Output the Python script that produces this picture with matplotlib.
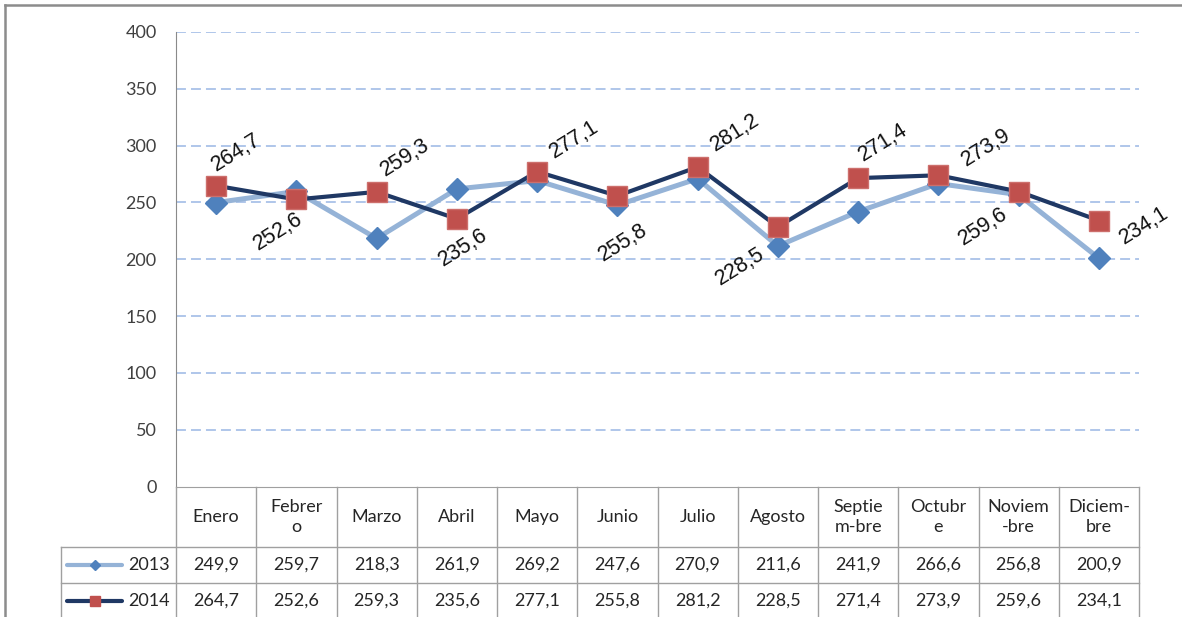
import numpy as np
import matplotlib
matplotlib.use('Agg')
import matplotlib.pyplot as plt
from matplotlib import transforms
from matplotlib.lines import Line2D

# data
meses = ['Enero', 'Febrer\no', 'Marzo', 'Abril', 'Mayo', 'Junio', 'Julio',
         'Agosto', 'Septie\nm-bre', 'Octubr\ne', 'Noviem\n-bre', 'Diciem-\nbre']
v2013 = [249.9, 259.7, 218.3, 261.9, 269.2, 247.6, 270.9, 211.6, 241.9, 266.6, 256.8, 200.9]
v2014 = [264.7, 252.6, 259.3, 235.6, 277.1, 255.8, 281.2, 228.5, 271.4, 273.9, 259.6, 234.1]
yticks = [0, 50, 100, 150, 200, 250, 300, 350, 400]

# where each 2014 label sits relative to its marker (px right, px up)
lab_dx = [20, -18, 28, 6, 37, 6, 37, -38, 25, 48, -36, 45]
lab_dy = [33, -32, 34, -29, 32, -47, 34, -40, 36, 28, -35, -5]

def fmt(v):
    return ('%.1f' % v).replace('.', ',')

W, H = 1182, 617
fig = plt.figure(figsize=(W / 100, H / 100), dpi=100)
ax = fig.add_axes([176 / W, 1 - 486.5 / H, 963 / W, 454.5 / H])

x = np.arange(len(meses))
ax.set_xlim(-0.5, len(meses) - 0.5)
ax.set_ylim(0, 400)

# dashed gridlines
for yv in yticks[1:]:
    ax.axhline(yv, color='#A9C1E8', lw=1.3, ls=(0, (5.5, 2.8)), zorder=1)

ax.plot(x, v2013, color='#95B3D7', lw=3.6, marker='D', ms=11,
        mfc='#4F81BD', mec='#4F81BD', zorder=3)
ax.plot(x, v2014, color='#1F3864', lw=3, marker='s', ms=15,
        mfc='#C0504D', mec='#CD6F6C', mew=1, zorder=4)

for i, v in enumerate(v2014):
    ax.annotate(fmt(v), (i, v), xytext=(lab_dx[i] * 0.72, lab_dy[i] * 0.72),
                textcoords='offset points', ha='center', va='center',
                rotation=32, fontsize=15.5, family='Liberation Sans',
                color='#111111', zorder=5)

ax.set_yticks(yticks)
ax.set_xticks([])
ax.tick_params(axis='y', length=0, pad=14, labelsize=13, labelcolor='#404040')
for lab in ax.get_yticklabels():
    lab.set_family('Lato')
for s in ['top', 'right']:
    ax.spines[s].set_visible(False)
ax.spines['left'].set_color('#8A8A8A')
ax.spines['bottom'].set_color('#A0A0A0')

# data table below the plot
tr = transforms.blended_transform_factory(ax.transData, fig.transFigure)
def fy(py):
    return 1 - py / H

grid_c = '#A0A0A0'
unit = 963 / len(meses)
x_leg = -0.5 - (176 - 61) / unit
y_top, y_r1, y_r2, y_bot = fy(487), fy(547), fy(583), fy(620)

for b in np.arange(len(meses) + 1) - 0.5:
    fig.add_artist(Line2D([b, b], [y_top, y_bot], transform=tr, color=grid_c, lw=1, clip_on=False))
fig.add_artist(Line2D([x_leg, x_leg], [y_r1, y_bot], transform=tr, color=grid_c, lw=1, clip_on=False))
for yy in [y_r1, y_r2]:
    fig.add_artist(Line2D([x_leg, len(meses) - 0.5], [yy, yy], transform=tr, color=grid_c, lw=1, clip_on=False))

tkw = dict(transform=tr, ha='center', va='center', fontsize=13, family='Lato', color='#262626')
for i, m in enumerate(meses):
    fig.text(i, fy(517), m, linespacing=1.3, **tkw)
    fig.text(i, fy(565), fmt(v2013[i]), **tkw)
    fig.text(i, fy(601), fmt(v2014[i]), **tkw)

# legend keys in the first column
l0, l1, lm = x_leg + 6 / unit, x_leg + 61 / unit, x_leg + 34 / unit
fig.add_artist(Line2D([l0, l1], [fy(565), fy(565)], transform=tr, color='#95B3D7', lw=3,
                      solid_capstyle='round', clip_on=False))
fig.add_artist(Line2D([lm], [fy(565)], transform=tr, marker='D', ms=5, color='#4F81BD', clip_on=False))
fig.add_artist(Line2D([l0, l1], [fy(601), fy(601)], transform=tr, color='#1F3864', lw=3,
                      solid_capstyle='round', clip_on=False))
fig.add_artist(Line2D([lm], [fy(601)], transform=tr, marker='s', ms=7.5, color='#C0504D', clip_on=False))
fig.text(x_leg + 67 / unit, fy(565), '2013', transform=tr, ha='left', va='center',
         fontsize=13, family='Lato', color='#262626')
fig.text(x_leg + 67 / unit, fy(601), '2014', transform=tr, ha='left', va='center',
         fontsize=13, family='Lato', color='#262626')

# outer chart frame (left and top edges visible)
fig.add_artist(Line2D([5 / W, 5 / W], [0, 1 - 5 / H], transform=fig.transFigure, color='#8C8C8C', lw=1.8))
fig.add_artist(Line2D([5 / W, 1], [1 - 5 / H, 1 - 5 / H], transform=fig.transFigure, color='#8C8C8C', lw=1.8))

fig.savefig('out.png', dpi=100)
